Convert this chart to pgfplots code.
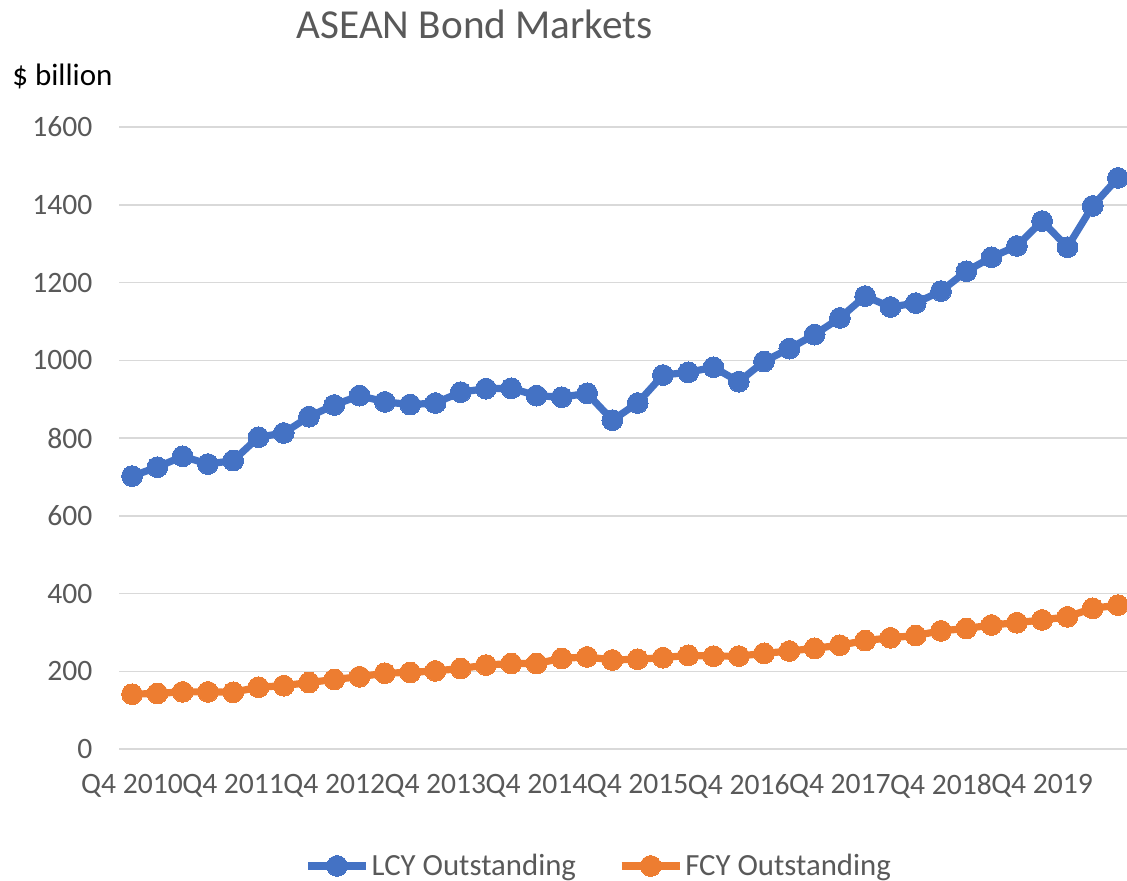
\documentclass[border=0pt]{standalone}
\usepackage{fontspec}
\setmainfont{Carlito}
\usepackage{pgfplots}
\usepackage{pgfplotstable}
\pgfplotsset{compat=1.18}
\definecolor{lcy}{HTML}{4472C4}
\definecolor{fcy}{HTML}{ED7D31}
\definecolor{txt}{HTML}{595959}
\definecolor{gridc}{HTML}{D9D9D9}

\pgfplotstableread{
x lcy fcy
0 702 141
1 725 143
2 753 147
3 733 147
4 742 146
5 802 159
6 813 163
7 855 171
8 885 179
9 909 186
10 893 195
11 886 197
12 890 201
13 918 207
14 927 216
15 928 220
16 909 220
17 905 233
18 915 237
19 846 229
20 890 231
21 962 235
22 969 241
23 982 239
24 945 239
25 997 246
26 1030 252
27 1066 259
28 1109 267
29 1165 279
30 1137 286
31 1147 292
32 1178 304
33 1229 310
34 1265 319
35 1294 325
36 1358 332
37 1291 340
38 1397 362
39 1469 370
}\datatable

\begin{document}
\begin{tikzpicture}
\useasboundingbox (0,0) rectangle (563.5pt,-440pt);
\node[anchor=base, inner sep=0pt, text=txt, font=\fontsize{20.6}{25}\selectfont] at (237.3pt,-19pt) {ASEAN Bond Markets};
\node[anchor=base west, inner sep=0pt, font=\fontsize{15.5}{18}\selectfont] at (6pt,-42.5pt) {\$ billion};
\begin{axis}[
  at={(59.7pt,-374.5pt)}, anchor=south west, scale only axis,
  width=505.6pt, height=311pt,
  xmin=-0.5, xmax=39.5, ymin=0, ymax=1600,
  ytick={0,200,...,1600},
  xtick={0,4,...,36},
  xticklabels={Q4 2010,Q4 2011,Q4 2012,Q4 2013,Q4 2014,Q4 2015,Q4 2016,Q4 2017,Q4 2018,Q4 2019},
  ymajorgrids, grid style={gridc, line width=0.75pt},
  axis line style={draw=none},
  major tick style={draw=none},
  tick label style={text=txt, font=\fontsize{14.8}{17}\selectfont},
  /pgf/number format/assume math mode=true,
  /pgf/number format/1000 sep={},
  yticklabel style={xshift=-10pt},
  xticklabel style={yshift=-9pt},
  clip=false,
  legend columns=2,
  legend cell align=left,
  legend style={at={(0.474,-0.188)}, anchor=center, draw=none, fill=none,
    text=txt, font=\fontsize{15.4}{18}\selectfont,
    nodes={inner sep=1pt},
    /tikz/every even column/.append style={column sep=20pt}},
  legend image code/.code={\draw[#1, mark repeat=2, mark phase=2] plot coordinates {(0pt,0pt) (14.5pt,0pt) (29pt,0pt)};},
]
\addplot[lcy, line width=3.6pt, mark=*, mark size=5.2pt, mark options={solid, fill=lcy, draw=lcy, line width=0pt}] table[x=x, y=lcy] {\datatable};
\addlegendentry{LCY Outstanding}
\addplot[fcy, line width=3.6pt, mark=*, mark size=5.2pt, mark options={solid, fill=fcy, draw=fcy, line width=0pt}] table[x=x, y=fcy] {\datatable};
\addlegendentry{FCY Outstanding}
\end{axis}
\end{tikzpicture}
\end{document}
